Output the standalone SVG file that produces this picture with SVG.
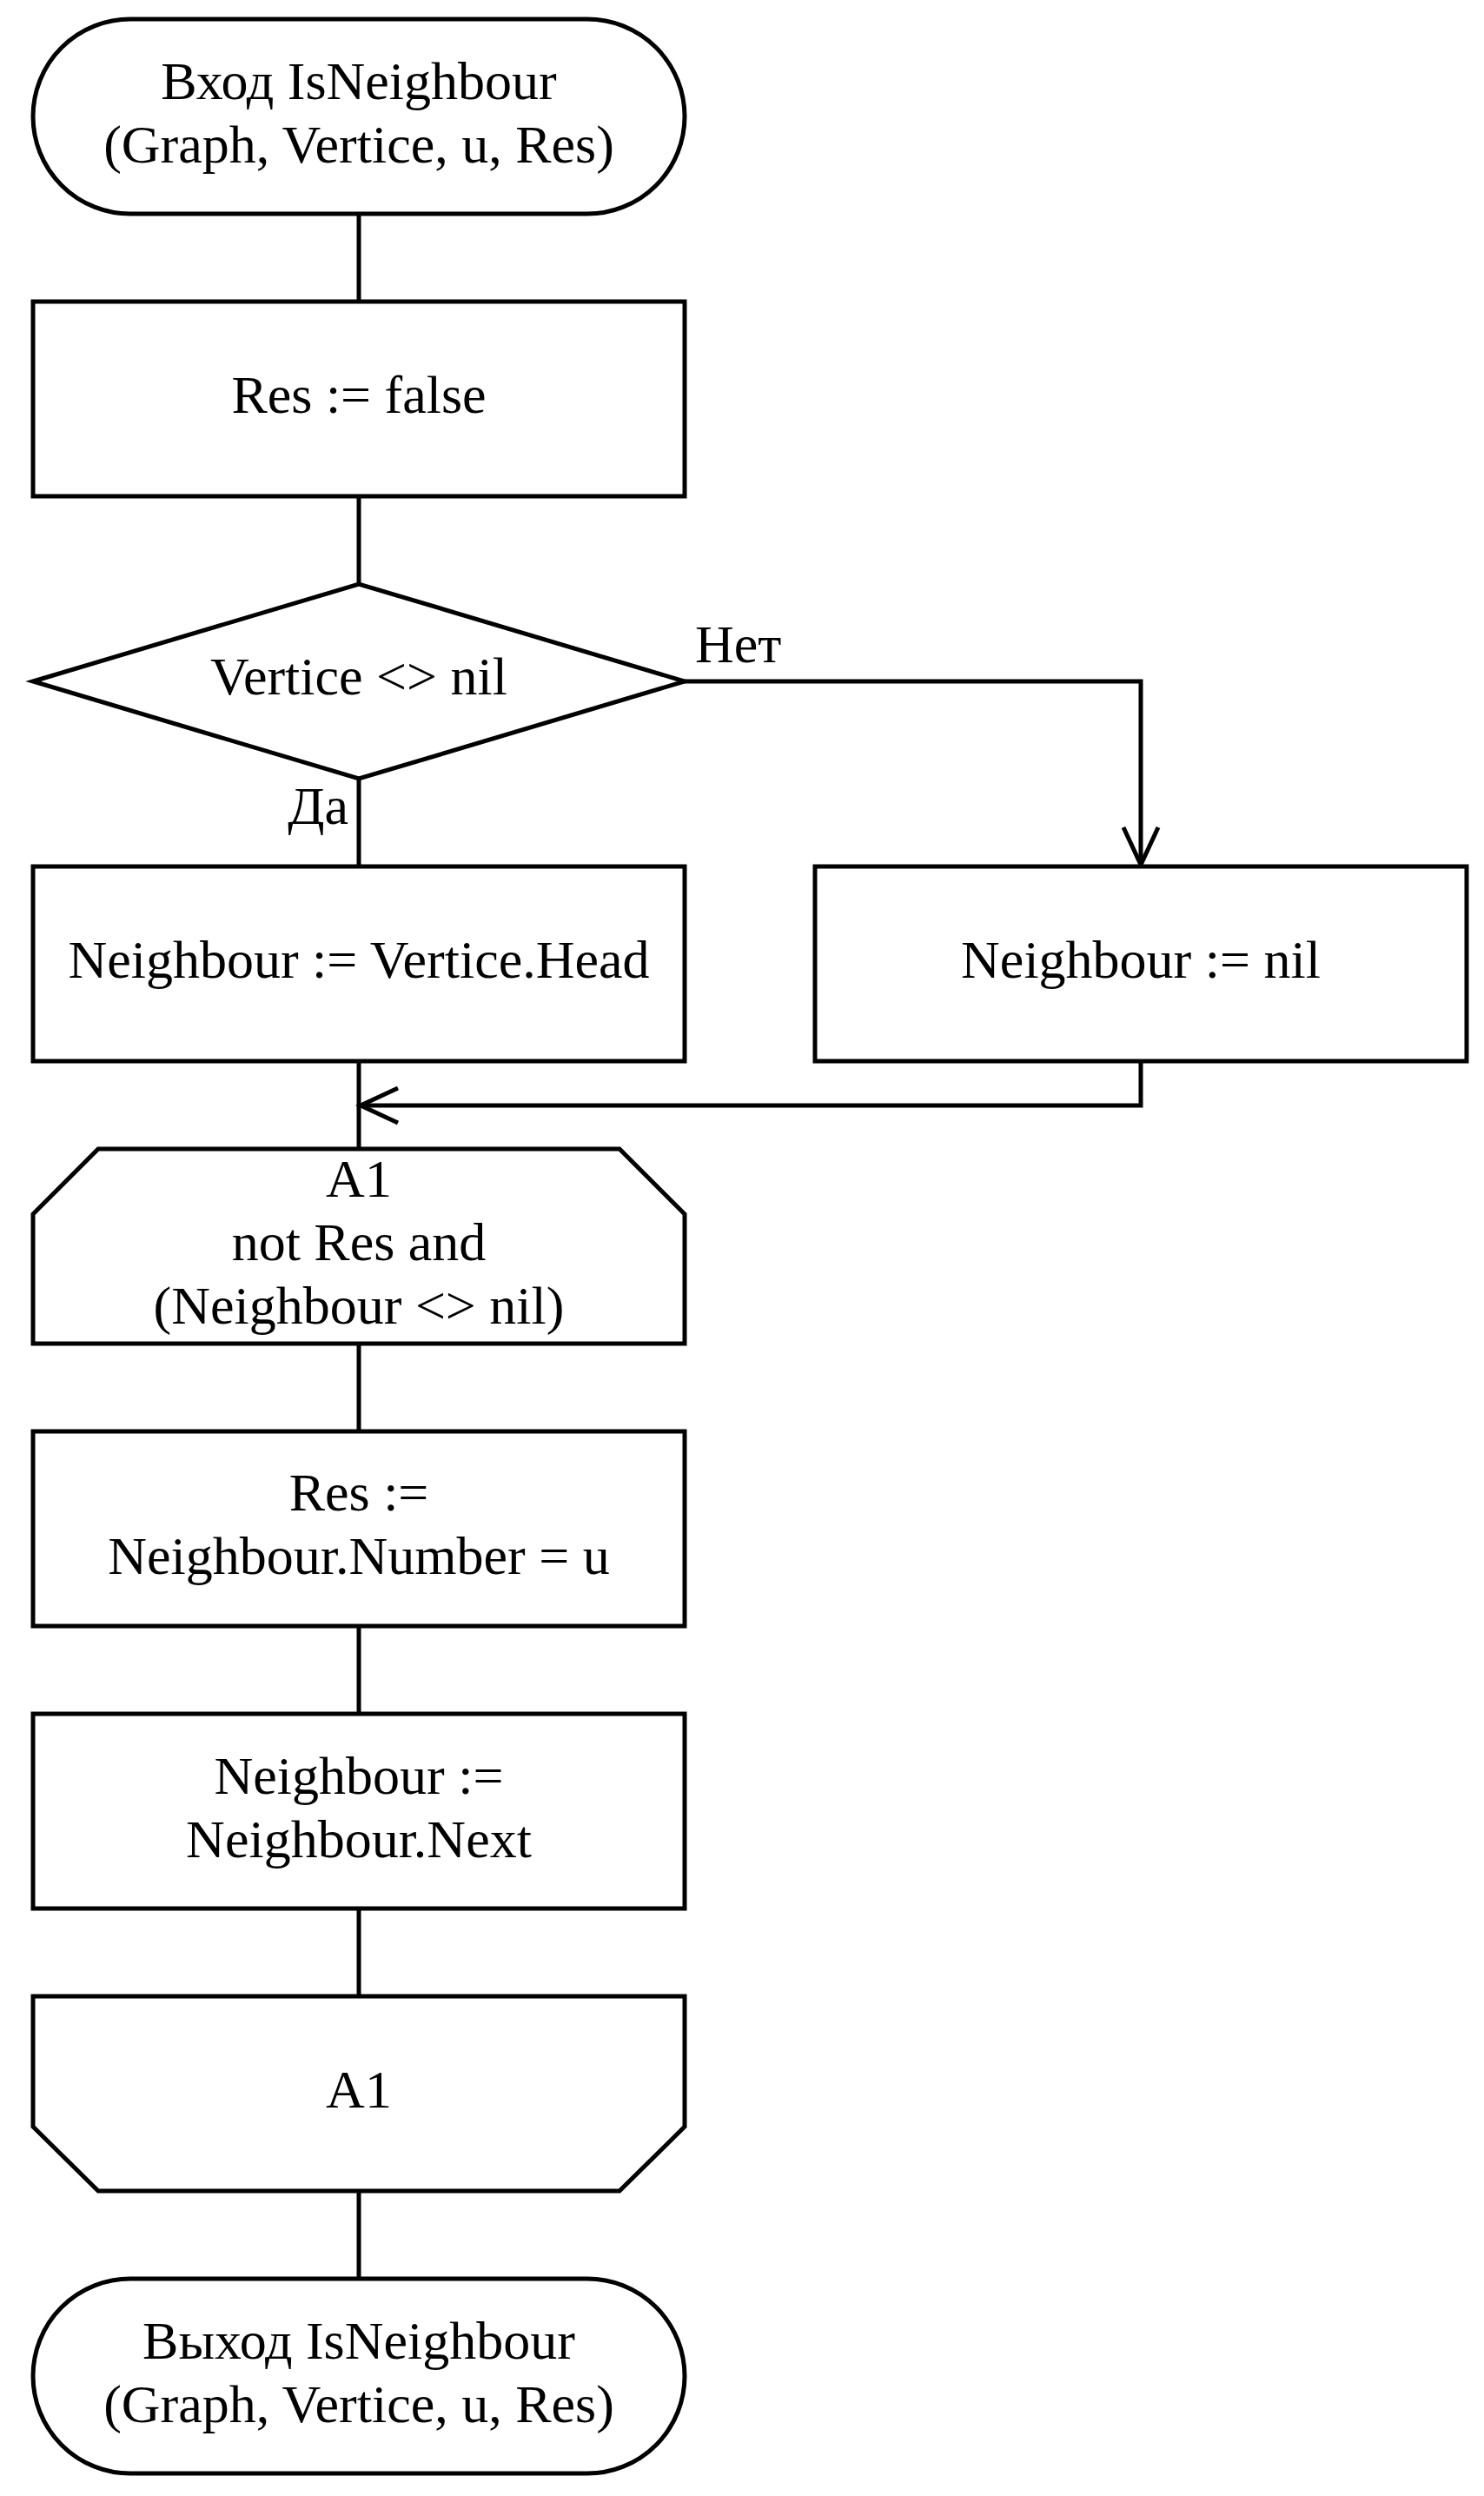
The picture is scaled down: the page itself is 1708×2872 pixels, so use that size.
<svg xmlns="http://www.w3.org/2000/svg" width="1708" height="2872" viewBox="0 0 1708 2872">
<style>
.s{fill:#fff;stroke:#000;stroke-width:5}
.c{fill:none;stroke:#000;stroke-width:5}
text{font-family:"Liberation Serif","Times New Roman",serif;font-size:62px;fill:#000;text-anchor:middle}
</style>
<defs>
<marker id="a" markerUnits="userSpaceOnUse" markerWidth="60" markerHeight="60" viewBox="-50 -30 60 60" refX="0" refY="0" orient="auto">
<path d="M-43,-20 L0,0 L-43,20" fill="none" stroke="#000" stroke-width="5"/>
</marker>
</defs>
<rect width="1708" height="2872" fill="#fff"/>
<g id="connectors">
<path class="c" d="M413,246 V347"/>
<path class="c" d="M413,571 V672"/>
<path class="c" d="M413,896 V997"/>
<path class="c" d="M788,784 H1313 V995" marker-end="url(#a)"/>
<path class="c" d="M1313,1221 V1272 H415" marker-end="url(#a)"/>
<path class="c" d="M413,1221 V1322"/>
<path class="c" d="M413,1546 V1647"/>
<path class="c" d="M413,1871 V1972"/>
<path class="c" d="M413,2196 V2297"/>
<path class="c" d="M413,2521 V2622"/>
<text x="800" y="762" style="text-anchor:start">Нет</text>
<text x="401" y="948" style="text-anchor:end">Да</text>
</g>
<g id="start">
<rect class="s" x="38" y="22" width="750" height="224" rx="112" ry="112"/>
<text x="413" y="114">Вход IsNeighbour</text>
<text x="413" y="187">(Graph, Vertice, u, Res)</text>
</g>
<g id="init">
<rect class="s" x="38" y="347" width="750" height="224"/>
<text x="413" y="475">Res := false</text>
</g>
<g id="cond">
<polygon class="s" points="38,784 413,672 788,784 413,896"/>
<text x="413" y="799">Vertice &lt;&gt; nil</text>
</g>
<g id="head">
<rect class="s" x="38" y="997" width="750" height="224"/>
<text x="413" y="1125">Neighbour := Vertice.Head</text>
</g>
<g id="nil">
<rect class="s" x="938" y="997" width="750" height="224"/>
<text x="1313" y="1125">Neighbour := nil</text>
</g>
<g id="loopstart">
<polygon class="s" points="113,1322 713,1322 788,1397 788,1546 38,1546 38,1397"/>
<text x="413" y="1377">A1</text>
<text x="413" y="1450">not Res and</text>
<text x="413" y="1523">(Neighbour &lt;&gt; nil)</text>
</g>
<g id="resassign">
<rect class="s" x="38" y="1647" width="750" height="224"/>
<text x="413" y="1738">Res :=</text>
<text x="413" y="1811">Neighbour.Number = u</text>
</g>
<g id="next">
<rect class="s" x="38" y="1972" width="750" height="224"/>
<text x="413" y="2064">Neighbour :=</text>
<text x="413" y="2137">Neighbour.Next</text>
</g>
<g id="loopend">
<polygon class="s" points="38,2297 788,2297 788,2447 713,2521 113,2521 38,2447"/>
<text x="413" y="2425">A1</text>
</g>
<g id="end">
<rect class="s" x="38" y="2622" width="750" height="224" rx="112" ry="112"/>
<text x="413" y="2714">Выход IsNeighbour</text>
<text x="413" y="2787">(Graph, Vertice, u, Res)</text>
</g>
</svg>
